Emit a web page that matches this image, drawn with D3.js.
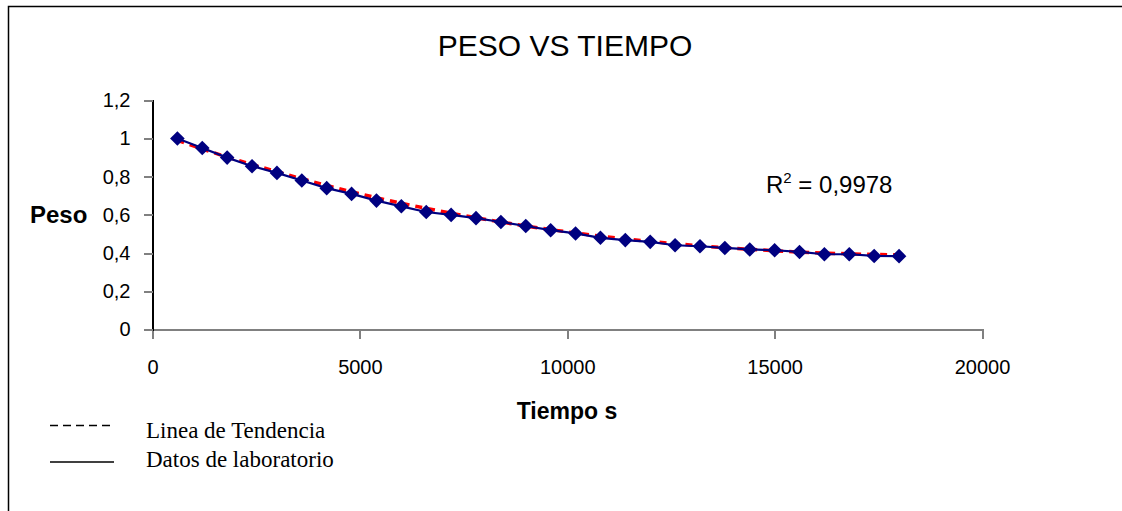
<!DOCTYPE html>
<meta charset="utf-8">
<head>
<title>PESO VS TIEMPO</title>
<style>
  body { margin: 0; background: #fff; }
  svg text { font-family: "Liberation Sans", Arial, sans-serif; }
  .axis path, .axis line { shape-rendering: crispEdges; }
</style>
</head>
<body>
<svg width="1122" height="511"></svg>
<script src="https://cdn.jsdelivr.net/npm/d3@7/dist/d3.min.js"></script>
<script>

// tiempo (s) de cada medicion
var tiempo = [600, 1200, 1800, 2400, 3000, 3600, 4200, 4800, 5400, 6000,
              6600, 7200, 7800, 8400, 9000, 9600, 10200, 10800, 11400, 12000,
              12600, 13200, 13800, 14400, 15000, 15600, 16200, 16800, 17400, 18000];
// peso medido (datos de laboratorio)
var peso = [1.00, 0.95, 0.90, 0.855, 0.82, 0.78, 0.74, 0.71, 0.675, 0.645,
            0.615, 0.60, 0.583, 0.563, 0.542, 0.52, 0.503, 0.48, 0.468, 0.459,
            0.441, 0.436, 0.427, 0.419, 0.415, 0.406, 0.394, 0.394, 0.385, 0.384];
// linea de tendencia
var tendencia = [0.99, 0.945, 0.903, 0.864, 0.826, 0.789, 0.754, 0.721, 0.69, 0.661,
                 0.634, 0.609, 0.585, 0.563, 0.542, 0.523, 0.505, 0.489, 0.474, 0.461,
                 0.449, 0.438, 0.428, 0.42, 0.412, 0.405, 0.4, 0.396, 0.393, 0.391];

var xTicks = [0, 5000, 10000, 15000, 20000];
var yTicks = [0, 0.2, 0.4, 0.6, 0.8, 1, 1.2];

var svg = d3.select("svg");

// marco
svg.append("path")
   .attr("d", "M8.5,511 L8.5,6.5 L1122,6.5")
   .attr("fill", "none")
   .attr("stroke", "#000")
   .attr("stroke-width", 1.5);

var xScale = d3.scaleLinear().domain([0, 20000]).range([152.5, 982]);
var yScale = d3.scaleLinear().domain([0, 1.2]).range([329.5, 100.3]);

var fmt = function(v) { return String(+v.toFixed(1)).replace(".", ","); };

// eje x
var gx = svg.append("g")
   .attr("class", "axis")
   .attr("transform", "translate(0," + yScale(0) + ")")
   .call(d3.axisBottom(xScale).tickValues(xTicks).tickSize(9).tickPadding(21).tickFormat(d3.format("d")));
gx.select(".domain").attr("stroke", "#808080").attr("stroke-width", 2);
gx.selectAll(".tick line").attr("stroke", "#808080").attr("stroke-width", 2);
gx.selectAll("text").attr("font-size", "20px").attr("fill", "#000")
  .style("font-family", "Liberation Sans, Arial, sans-serif");

// eje y
var gy = svg.append("g")
   .attr("class", "axis")
   .attr("transform", "translate(" + xScale(0) + ",0)")
   .call(d3.axisLeft(yScale).tickValues(yTicks).tickSize(9).tickPadding(13).tickFormat(fmt));
gy.select(".domain").attr("stroke", "#000").attr("stroke-width", 1.5);
gy.selectAll(".tick line").attr("stroke", "#808080").attr("stroke-width", 2);
gy.selectAll("text").attr("font-size", "20px").attr("fill", "#000")
  .style("font-family", "Liberation Sans, Arial, sans-serif");

// titulo
svg.append("text")
   .attr("x", 565).attr("y", 56)
   .attr("text-anchor", "middle")
   .attr("font-size", "30px")
   .text("PESO VS TIEMPO");

svg.append("text")
   .attr("x", 30).attr("y", 223)
   .attr("font-size", "24px")
   .attr("font-weight", "bold")
   .text("Peso");

svg.append("text")
   .attr("x", 567).attr("y", 419)
   .attr("text-anchor", "middle")
   .attr("font-size", "23px")
   .attr("font-weight", "bold")
   .text("Tiempo s");

// R^2
var r2 = svg.append("text")
   .attr("x", 766).attr("y", 193)
   .attr("font-size", "24px");
r2.append("tspan").text("R");
r2.append("tspan").attr("dy", -10).attr("font-size", "15px").text("2");
r2.append("tspan").attr("dy", 10).text(" = 0,9978");

var idx = d3.range(tiempo.length);

// linea de tendencia (roja, discontinua)
var trendLine = d3.line()
   .x(function(i) { return xScale(tiempo[i]); })
   .y(function(i) { return yScale(tendencia[i]); });
svg.append("path")
   .datum(idx)
   .attr("fill", "none")
   .attr("stroke", "#ff0000")
   .attr("stroke-width", 3.5)
   .attr("stroke-dasharray", "7,6")
   .attr("d", trendLine);

// datos de laboratorio
var dataLine = d3.line()
   .x(function(i) { return xScale(tiempo[i]); })
   .y(function(i) { return yScale(peso[i]); });
svg.append("path")
   .datum(idx)
   .attr("fill", "none")
   .attr("stroke", "#000080")
   .attr("stroke-width", 2.2)
   .attr("d", dataLine);

svg.selectAll(".punto")
   .data(idx)
   .enter().append("path")
   .attr("class", "punto")
   .attr("transform", function(i) { return "translate(" + xScale(tiempo[i]) + "," + yScale(peso[i]) + ")"; })
   .attr("d", "M0,-7.3 L7.3,0 L0,7.3 L-7.3,0 Z")
   .attr("fill", "#000080");

// leyenda
var legend = svg.append("g");
legend.append("line")
   .attr("x1", 50).attr("x2", 114).attr("y1", 425.5).attr("y2", 425.5)
   .attr("stroke", "#000").attr("stroke-width", 1.5).attr("stroke-dasharray", "8,5");
legend.append("line")
   .attr("x1", 50).attr("x2", 114).attr("y1", 462).attr("y2", 462)
   .attr("stroke", "#000").attr("stroke-width", 1.5);
legend.append("text")
   .attr("x", 146).attr("y", 438)
   .attr("font-size", "23px")
   .style("font-family", "Liberation Serif, Times New Roman, serif")
   .text("Linea de Tendencia");
legend.append("text")
   .attr("x", 146).attr("y", 467)
   .attr("font-size", "23px")
   .style("font-family", "Liberation Serif, Times New Roman, serif")
   .text("Datos de laboratorio");

</script>
</body>
